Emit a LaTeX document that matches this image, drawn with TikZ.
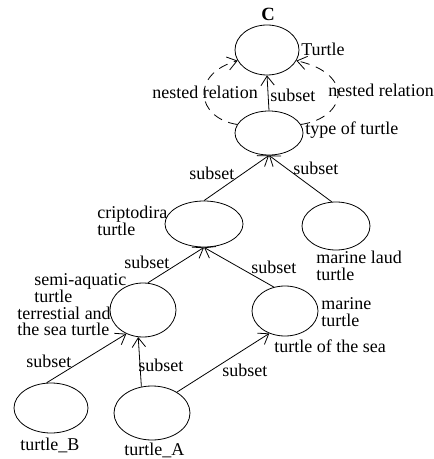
\documentclass[tikz,border=0pt]{standalone}
\usepackage{fontspec}
\setmainfont{Liberation Serif}
\usetikzlibrary{shapes.geometric,arrows.meta}
\begin{document}
\begin{tikzpicture}[x=0.75pt,y=-0.75pt,
  ell/.style={ellipse,draw,line width=0.6pt,inner sep=0pt},
  lbl/.style={anchor=west,inner sep=0pt,font=\fontsize{13.5}{12.5}\selectfont,align=left},
  conn/.style={line width=0.6pt,-{Straight Barb[length=7pt,width=10pt,line width=0.6pt]}},
  nest/.style={conn,dash pattern=on 7pt off 5pt}]
\useasboundingbox (0,0) rectangle (434,459);
% ellipses
\node[ell,minimum width=48pt,minimum height=37.5pt] (turtle) at (267,50) {};
\node[ell,minimum width=51pt,minimum height=33pt] (type) at (269,133) {};
\node[ell,minimum width=58.5pt,minimum height=34.5pt] (crip) at (204,224) {};
\node[ell,minimum width=51pt,minimum height=36pt] (laud) at (336,226) {};
\node[ell,minimum width=49.5pt,minimum height=40.5pt] (semi) at (143,310) {};
\node[ell,minimum width=49.5pt,minimum height=37.5pt] (marine) at (285,311) {};
\node[ell,minimum width=55.5pt,minimum height=37.5pt] (tb) at (51,408) {};
\node[ell,minimum width=57pt,minimum height=40.5pt] (ta) at (152,413) {};
% labels
\node[font=\fontsize{14}{14}\selectfont\bfseries,inner sep=0pt] (lc) at (268,14) {C};
\node[lbl] (lturtle) at (301,49) {Turtle};
\node[lbl] (lnest1) at (152,92) {nested relation};
\node[lbl] (ls0) at (270,95) {subset};
\node[lbl] (lnest2) at (328,90) {nested relation};
\node[lbl] (ltype) at (305,130) {type of turtle};
\node[lbl] (ls1) at (189,173) {subset};
\node[lbl] (ls2) at (293,168) {subset};
\node[lbl] (lcrip) at (97,221) {criptodira\\turtle};
\node[lbl] (llaud) at (316,266) {marine laud\\turtle};
\node[lbl] (ls3) at (124,262) {subset};
\node[lbl] (ls4) at (251,267) {subset};
\node[lbl] (lsemi) at (17,305) {\hspace*{12.75pt}semi-aquatic\\\hspace*{12.75pt}turtle\\terrestial and\\the sea turtle};
\node[lbl] (lmarine) at (321,312) {marine\\turtle};
\node[lbl] (lsea) at (274,346) {turtle of the sea};
\node[lbl] (ls5) at (26,361) {subset};
\node[lbl] (ls6) at (138,365) {subset};
\node[lbl] (ls7) at (222,370) {subset};
\node[lbl] (ltb) at (20,445) {turtle\_B};
\node[lbl] (lta) at (124,450) {turtle\_A};
% connectors
\draw[conn] (type.north) -- (turtle.south);
\draw[nest] (type.165) .. controls (196,118) and (190,74) .. (turtle.200);
\draw[nest] (type.15) .. controls (346,118) and (356,74) .. (turtle.-20);
\draw[conn] (crip.north) -- (type.south);
\draw[conn] (laud.100) -- (type.south);
\draw[conn] (semi.80) -- (crip.south);
\draw[conn] (marine.115) -- (crip.south);
\draw[conn] (tb.100) -- (semi.235);
\draw[conn] (ta.112) -- (semi.260);
\draw[conn] (ta.40) -- (marine.235);
\end{tikzpicture}
\end{document}
